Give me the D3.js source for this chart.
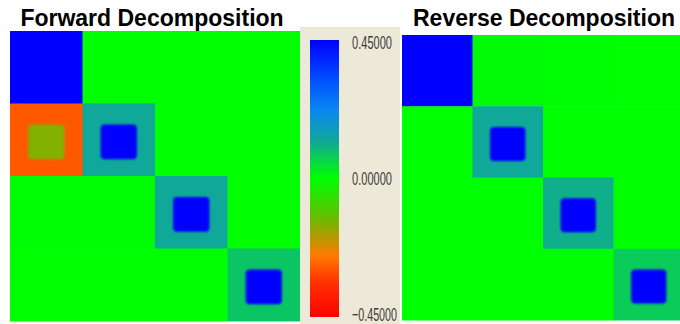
<!DOCTYPE html>
<html>
<head>
<meta charset="utf-8">
<script src="https://cdn.jsdelivr.net/npm/d3@7"></script>
<style>
  body { margin: 0; background: #fff; }
  svg { display: block; }
</style>
</head>
<body>
<script>
// block values (row-major, 4x4) and inner-square values (null = none)
const forwardOuter = [
  [0.45, 0, 0, 0],
  [-0.29, 0.12, 0, 0],
  [0.003, 0.003, 0.12, 0],
  [0, 0, 0, 0.08]
];
const forwardInner = [
  [null, null, null, null],
  [-0.15, 0.45, null, null],
  [null, null, 0.45, null],
  [null, null, null, 0.45]
];
const reverseOuter = [
  [0.45, 0.005, 0.003, 0],
  [0, 0.12, 0, 0],
  [0, 0, 0.11, 0],
  [0, 0, 0, 0.07]
];
const reverseInner = [
  [null, null, null, null],
  [null, 0.45, null, null],
  [null, null, 0.45, null],
  [null, null, null, 0.45]
];
const titles = ["Forward Decomposition", "Reverse Decomposition"];
const colorStops = [-0.45, -0.34, -0.25, -0.18, -0.12, 0, 0.12, 0.22, 0.32, 0.45];
const colorValues = ["#ff0000", "#ff3000", "#ff7a00", "#a8a000", "#60c000", "#00ff00", "#10a898", "#0a88f0", "#0050ff", "#0000ff"];
const colorTicks = [0.45, 0, -0.45];

const color = d3.scaleLinear().domain(colorStops).range(colorValues).clamp(true);

const svg = d3.select("body").append("svg").attr("width", 680).attr("height", 324);

const defs = svg.append("defs");
defs.append("filter").attr("id", "soft")
  .attr("x", "-20%").attr("y", "-20%").attr("width", "140%").attr("height", "140%")
  .append("feGaussianBlur").attr("stdDeviation", 1.2);

const idx = d3.range(4);

const drawPanel = (outer, inner, box) => {
  const x = d3.scaleBand().domain(idx).range([box.x, box.x + box.w]);
  const y = d3.scaleBand().domain(idx).range([box.y, box.y + box.h]);
  const g = svg.append("g");
  const cells = outer.flatMap((row, r) => row.map((v, c) => ({ r, c, v, inner: inner[r][c] })));

  g.selectAll("rect.cell").data(cells).enter().append("rect")
    .attr("class", "cell")
    .attr("x", (d) => x(d.c))
    .attr("y", (d) => y(d.r))
    .attr("width", x.bandwidth() + 0.5)
    .attr("height", y.bandwidth() + 0.5)
    .attr("fill", (d) => color(d.v));

  const bw = x.bandwidth(), bh = y.bandwidth();
  g.selectAll("rect.inner").data(cells.filter((d) => d.inner !== null)).enter().append("rect")
    .attr("class", "inner")
    .attr("x", (d) => x(d.c) + bw * 0.25)
    .attr("y", (d) => y(d.r) + bh * 0.29)
    .attr("width", bw * 0.5)
    .attr("height", bh * 0.48)
    .attr("rx", 4)
    .attr("fill", (d) => color(d.inner))
    .attr("filter", "url(#soft)");
};

drawPanel(forwardOuter, forwardInner, { x: 10, y: 31, w: 290, h: 290 });
drawPanel(reverseOuter, reverseInner, { x: 402, y: 35, w: 282, h: 285 });

// titles
svg.selectAll("text.title").data(titles).enter().append("text")
  .attr("class", "title")
  .attr("x", (d, i) => (i === 0 ? 152 : 544))
  .attr("y", 26)
  .attr("text-anchor", "middle")
  .attr("font-family", "Liberation Sans, Arial, sans-serif")
  .attr("font-weight", "bold")
  .attr("font-size", 23)
  .attr("fill", "#000")
  .text((d) => d);

// colour bar panel
svg.append("rect")
  .attr("x", 300).attr("y", 27).attr("width", 100).attr("height", 297)
  .attr("fill", "#ece9d8");

const barTop = 40, barBottom = 317;
const grad = defs.append("linearGradient").attr("id", "cbar")
  .attr("x1", 0).attr("y1", 1).attr("x2", 0).attr("y2", 0);
grad.selectAll("stop").data(colorStops).enter().append("stop")
  .attr("offset", (d) => (d - colorStops[0]) / (colorStops[colorStops.length - 1] - colorStops[0]))
  .attr("stop-color", (d) => color(d));

svg.append("rect")
  .attr("x", 310).attr("y", barTop).attr("width", 29).attr("height", barBottom - barTop)
  .attr("fill", "url(#cbar)");

const yBar = d3.scaleLinear().domain([-0.45, 0.45]).range([barBottom, barTop]);
const axis = svg.append("g")
  .attr("transform", "translate(350,0)")
  .call(d3.axisRight(yBar).tickValues(colorTicks).tickFormat(d3.format(".5f")).tickSize(0));
axis.select(".domain").remove();
axis.selectAll("text")
  .attr("x", 2)
  .attr("dy", (d) => (d === 0.45 ? "0.45em" : d === -0.45 ? "0.2em" : "0.32em"))
  .attr("font-family", "Liberation Sans Narrow, Arial Narrow, Liberation Sans, sans-serif")
  .attr("font-size", 19)
  .attr("fill", "#3a3a3a")
  .attr("textLength", (d) => (d < 0 ? 45 : 40))
  .attr("lengthAdjust", "spacingAndGlyphs");
</script>
</body>
</html>
